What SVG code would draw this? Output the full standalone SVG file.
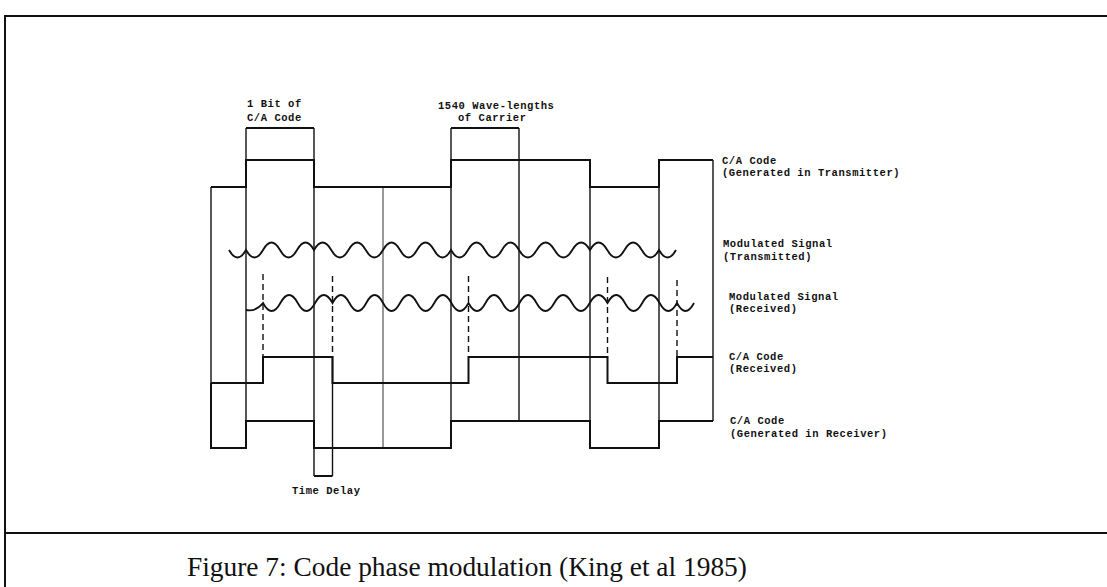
<svg xmlns="http://www.w3.org/2000/svg" width="1107" height="587" viewBox="0 0 1107 587">
<style>
.frame{fill:none;stroke:#111;stroke-width:2}
.code{fill:none;stroke:#111;stroke-width:2;stroke-linejoin:miter}
.wave{fill:none;stroke:#111;stroke-width:1.8}
.vl{stroke:#111;stroke-width:1.4}
.thin{stroke:#333;stroke-width:1}
.dash{stroke:#111;stroke-width:1.4;stroke-dasharray:6 4}
.lbl{font-family:"Liberation Mono","DejaVu Sans Mono",monospace;font-weight:bold;font-size:10.5px;letter-spacing:0.55px;fill:#111}
.cap{font-family:"Liberation Serif","Times New Roman",serif;font-size:27.4px;fill:#111}
</style>
<rect width="1107" height="587" fill="#fff"/>
<g id="frame">
<path class="frame" d="M1107,16 H5 V587"/>
<path class="frame" d="M5,533 H1107"/>
</g>
<g id="connectors">
<line class="vl" x1="211" y1="187" x2="211" y2="448"/>
<line class="vl" x1="246" y1="128" x2="246" y2="448"/>
<line class="vl" x1="314" y1="128" x2="314" y2="476"/>
<line class="vl" x1="332.5" y1="357" x2="332.5" y2="476"/>
<line class="thin" x1="383" y1="187" x2="383" y2="448"/>
<line class="vl" x1="451" y1="128" x2="451" y2="448"/>
<line class="vl" x1="519" y1="128" x2="519" y2="421"/>
<line class="vl" x1="590" y1="187" x2="590" y2="448"/>
<line class="vl" x1="659" y1="160" x2="659" y2="448"/>
<line class="vl" x1="713" y1="160" x2="713" y2="421"/>
<line class="code" x1="246" y1="128" x2="314" y2="128"/>
<line class="code" x1="451" y1="128" x2="519" y2="128"/>
<line class="code" x1="314" y1="476" x2="332.5" y2="476"/>
<line class="dash" x1="263" y1="274" x2="263" y2="357"/>
<line class="dash" x1="332.5" y1="276" x2="332.5" y2="357"/>
<line class="dash" x1="468.5" y1="276" x2="468.5" y2="357"/>
<line class="dash" x1="607.5" y1="277" x2="607.5" y2="357"/>
<line class="dash" x1="677" y1="280" x2="677" y2="357"/>
</g>
<g id="ca-transmitted">
<path class="code" d="M211,187 H246 V160 H314 V187 H451 V160 H590 V187 H659 V160 H713"/>
<text class="lbl" x="722" y="164">C/A Code</text>
<text class="lbl" x="722" y="176">(Generated in Transmitter)</text>
</g>
<g id="mod-transmitted">
<path class="wave" d="M229,250 Q237.5,265 246,250 Q254.5,265 263,250 T280,250 T297,250 T314,250 Q322.6,235 331.25,250 T348.5,250 T365.75,250 T383,250 Q391.5,235 400,250 T417,250 T434,250 T451,250 Q459.5,265 468,250 T485,250 T502,250 T519,250 Q527.9,265 536.75,250 T554.5,250 T572.25,250 T590,250 Q598.6,235 607.25,250 T624.5,250 T641.75,250 T659,250 Q667.5,265 676,250"/>
<text class="lbl" x="723" y="247">Modulated Signal</text>
<text class="lbl" x="723" y="260">(Transmitted)</text>
</g>
<g id="mod-received">
<path class="wave" d="M246,310 Q256,312 263,303 Q271.7,319 280.4,303 T297.75,303 T315.1,303 T332.5,303 Q340.9,287 349.4,303 T366.25,303 T383.1,303 T400,303 Q408.6,287 417.1,303 T434.25,303 T451.4,303 T468.5,303 Q477,319 485.5,303 T502.5,303 T519.5,303 T536.5,303 Q545.4,319 554.25,303 T572,303 T589.75,303 T607.5,303 Q616.2,287 624.9,303 T642.25,303 T659.6,303 T677,303 Q685.5,319 694,303"/>
<text class="lbl" x="729" y="300">Modulated Signal</text>
<text class="lbl" x="729" y="312">(Received)</text>
</g>
<g id="ca-received">
<path class="code" d="M211,383 H263 V357 H332.5 V383 H468.5 V357 H607.5 V383 H677 V357 H713"/>
<text class="lbl" x="729" y="360">C/A Code</text>
<text class="lbl" x="729" y="372">(Received)</text>
</g>
<g id="ca-receiver">
<path class="code" d="M211,383 V448 H246 V421 H314 V448 H451 V421 H590 V448 H659 V421 H713"/>
<text class="lbl" x="730" y="424">C/A Code</text>
<text class="lbl" x="730" y="437">(Generated in Receiver)</text>
</g>
<g id="bit-label">
<text class="lbl" x="247" y="107">1 Bit of</text>
<text class="lbl" x="247" y="121">C/A Code</text>
</g>
<g id="carrier-label">
<text class="lbl" x="438" y="109">1540 Wave-lengths</text>
<text class="lbl" x="458" y="121">of Carrier</text>
</g>
<g id="delay-label">
<text class="lbl" x="292" y="494">Time Delay</text>
</g>
<g id="caption">
<text class="cap" x="187" y="576">Figure 7: Code phase modulation (King et al 1985)</text>
</g>
</svg>
